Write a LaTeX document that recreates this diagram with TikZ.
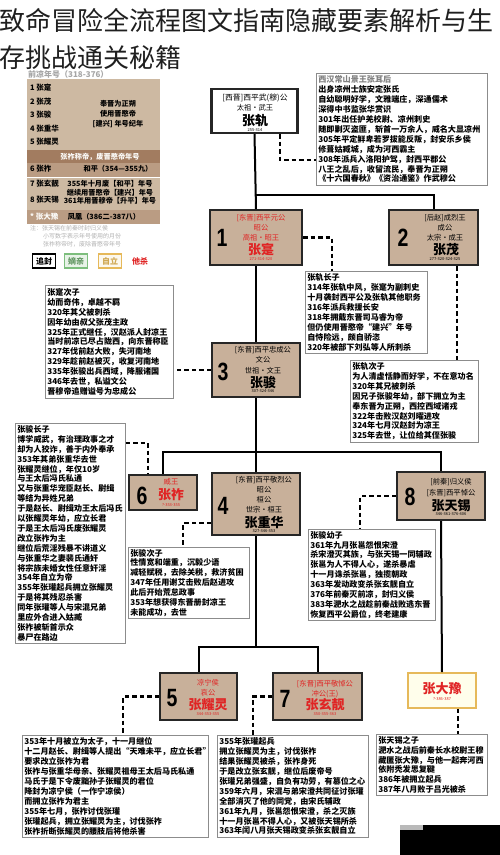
\documentclass[tikz,border=0pt]{standalone}
\usepackage{fontspec}
\setmainfont{Noto Sans CJK SC}
\newfontfamily\numfont{Liberation Sans}
\definecolor{tanf}{HTML}{C8B09A}
\definecolor{redt}{HTML}{E02424}
\definecolor{tabtan}{HTML}{CDB9A2}
\definecolor{tabdark}{HTML}{A27C60}
\definecolor{tabmid}{HTML}{BA9C83}
\definecolor{lgreen}{HTML}{7DBE7D}
\definecolor{lgold}{HTML}{E6B95A}
\tikzset{
 nbox/.style={draw=black!85, line width=2, fill=tanf, inner sep=0},
 ln/.style={inner sep=0, font=\fontsize{7.3}{8}\selectfont},
 nm/.style={inner sep=0, font=\fontsize{13}{13}\selectfont\bfseries},
 tn/.style={inner sep=0, font=\fontsize{4}{4}\selectfont},
 num/.style={inner sep=0, font=\numfont\fontsize{25}{25}\selectfont\bfseries},
 info/.style={draw=black!45, line width=0.7, fill=white, anchor=north west, align=left, inner xsep=2, inner ysep=1.5, font=\fontsize{8.1}{9.9}\selectfont\bfseries},
 trunk/.style={line width=2, black},
 dotc/.style={line width=2.2, black, dash pattern=on 4.5 off 3},
 tl/.style={inner sep=0, anchor=west, font=\fontsize{7.5}{8}\selectfont\bfseries},
 tr/.style={inner sep=0, font=\fontsize{7.2}{8}\selectfont\bfseries},
 note/.style={inner sep=0, anchor=west, text=black!30, font=\fontsize{6}{7}\selectfont},
 lgbox/.style={minimum width=23, minimum height=14, inner sep=0, line width=1.3, font=\fontsize{8}{8}\selectfont\bfseries},
}
\begin{document}
\begin{tikzpicture}[x=1pt,y=-1pt]
\useasboundingbox (0,0) rectangle (500,855);
\fill[white] (0,0) rectangle (500,855);

% ---------- title ----------
\node[anchor=west, inner sep=0, text=black!88, font=\fontsize{26}{26}\selectfont] (title1) at (-1,20) {致命冒险全流程图文指南隐藏要素解析与生};
\node[anchor=west, inner sep=0, text=black!88, font=\fontsize{26}{26}\selectfont] (title2) at (-1,58) {存挑战通关秘籍};

% ---------- left table ----------
\node[inner sep=0, anchor=west, text=black!35, font=\fontsize{8}{8}\selectfont\bfseries] (thead) at (28,74) {前凉年号（318-376）};
\fill[tabtan] (27,79) rectangle (160,150);
\fill[tabdark] (27,150) rectangle (160,163);
\fill[tabmid] (27,163) rectangle (160,177);
\fill[tabtan] (27,178) rectangle (160,210);
\fill[tabmid] (27,210) rectangle (160,224);
\node[tl] (r1) at (30,88) {1 张寔};
\node[tl] (r2) at (30,102) {2 张茂};
\node[tl] (r3) at (30,115) {3 张骏};
\node[tl] (r4) at (30,129) {4 张重华};
\node[tl] (r5) at (30,142) {5 张耀灵};
\node[tr] (rt1) at (118,104) {奉晋为正朔};
\node[tr] (rt2) at (118,114) {使用晋愍帝};
\node[tr] (rt3) at (118,124) {[建兴] 年号纪年};
\node[tr, text=white!94!tabtan] (band) at (100,156.5) {张祚称帝，废晋愍帝年号};
\node[tl] (r6) at (30,169) {6 张祚};
\node[tr] (rt6) at (118,169) {和平（354—355九）};
\node[tl] (r7) at (30,184) {7 张玄靓};
\node[tl] (r8) at (30,200) {8 张天锡};
\node[tr] (rt7) at (110,184) {355年十月废【和平】年号};
\node[tr] (rt8) at (110,192.5) {继续用晋愍帝【建兴】年号};
\node[tr] (rt9) at (110,201) {361年用晋穆帝【升平】年号};
\node[tl, text=white!94!tabtan] (r9) at (30,216.5) {* 张大豫};
\node[tr] (rt10) at (104,216.5) {凤凰（386二-387八）};
\node[note] (n1) at (30,228) {注：张天锡在前秦时封归义侯};
\node[note] (n2) at (43,236) {小写数字表示年号使用的月份};
\node[note] (n3) at (43,244) {张祚称帝时，废除晋愍帝年号};
\node[lgbox, draw=black, fill=white] (lg1) at (44,261) {追封};
\node[lgbox, draw=lgreen, fill=lgreen!18, text=lgreen!80!black] (lg2) at (76,261) {嫡亲};
\node[lgbox, draw=lgold, fill=lgold!10, text=lgold!90!black] (lg3) at (110,261) {自立};
\node[inner sep=0, text=redt, font=\fontsize{8}{8}\selectfont\bfseries] (lg4) at (140,261) {他杀};

% ---------- boxes ----------
\node[nbox, fill=white, line width=2.2, minimum width=86, minimum height=44] (b0) at (254.5,111) {};
\node[nbox, minimum width=92, minimum height=55] (b1) at (256,237.5) {};
\node[nbox, minimum width=89, minimum height=55] (b2) at (433.5,237.5) {};
\node[nbox, minimum width=88, minimum height=54] (b3) at (256,370) {};
\node[nbox, minimum width=88, minimum height=62] (b4) at (256,504) {};
\node[nbox, minimum width=68, minimum height=35] (b6) at (163,492.5) {};
\node[nbox, minimum width=88, minimum height=48] (b8) at (441,496) {};
\node[nbox, minimum width=77, minimum height=47] (b5) at (198.5,696.5) {};
\node[nbox, minimum width=89, minimum height=47] (b7) at (317.5,696.5) {};
\node[nbox, draw=lgold, fill=white!92!yellow, line width=1.6, minimum width=68, minimum height=35] (b9) at (442,690.5) {};

% ---------- connectors ----------
\coordinate (j1) at (256,195);
\coordinate (j2) at (256,452);
\coordinate (j3) at (256,647);
\draw[trunk] (b0.south) -- (b1.north);
\draw[trunk] (j1) -| (b2.north);
\draw[trunk] (b1.south) -- (b3.north);
\draw[trunk] (b3.south) -- (b4.north);
\draw[trunk] (j2) -| (b6.north);
\draw[trunk] (j2) -| (b8.north);
\draw[trunk] (b4.south) -- (j3);
\draw[trunk] (j3) -| (b5.north);
\draw[trunk] (j3) -| (b7.north);
\draw[trunk] (b8.south) -- (b9.north);

% ---------- info boxes ----------
\node[info, text width=167, minimum height=112] (i0) at (316,73) {{\color{black!50}西汉常山景王张耳后}\\出身凉州士族安定张氏\\自幼聪明好学，文雅端庄，深通儒术\\深得中书监张华赏识\\301年出任护羌校尉、凉州刺史\\随即剿灭盗匪，斩首一万余人，威名大显凉州\\305年平定鲜卑若罗拔能反叛，封安乐乡侯\\修葺姑臧城，成为河西霸主\\308年派兵入洛阳护驾，封西平郡公\\八王之乱后，收留流民，奉晋为正朔\\《十六国春秋》《资治通鉴》作武穆公};
\node[info, text width=118, minimum height=82] (i1) at (305,271) {张轨长子\\314年张轨中风，张寔为副刺史\\十月袭封西平公及张轨其他职务\\316年派兵救援长安\\318年拥戴东晋司马睿为帝\\但仍使用晋愍帝“建兴”年号\\自恃险远，颇自骄恣\\320年被部下刘弘等人所刺杀};
\node[info, text width=124, minimum height=82] (i2) at (350,360) {张轨次子\\为人清虚恬静而好学，不在意功名\\320年其兄被刺杀\\因兄子张骏年幼，部下拥立为主\\奉东晋为正朔，西控西域诸戎\\322年击败汉赵刘曜进攻\\324年七月汉赵封为凉王\\325年去世，让位给其侄张骏};
\node[info, text width=124, minimum height=113] (i3) at (45,285) {张寔次子\\幼而奇伟，卓越不羁\\320年其父被刺杀\\因年幼由叔父张茂主政\\325年正式继任，汉赵派人封凉王\\当时前凉已尽占陇西，向东晋称臣\\327年伐前赵大败，失河南地\\329年趁前赵被灭，收复河南地\\335年张骏出兵西域，降服诸国\\346年去世，私谥文公\\晋穆帝追赠谥号为忠成公};
\node[info, text width=106, minimum height=220] (i6) at (15,423) {张骏长子\\博学威武，有治理政事之才\\却为人狡诈，善于内外奉承\\353年其弟张重华去世\\张耀灵继位，年仅10岁\\与王太后冯氏私通\\又与张重华宠臣赵长、尉缉\\等结为异姓兄弟\\于是赵长、尉缉劝王太后冯氏\\以张耀灵年幼，应立长君\\于是王太后冯氏废张耀灵\\改立张祚为主\\继位后荒淫残暴不讲道义\\与张重华之妻裴氏通奸\\将宗族未婚女性任意奸淫\\354年自立为帝\\355年张瓘起兵拥立张耀灵\\于是将其残忍杀害\\同年张瓘等人与宋混兄弟\\里应外合进入姑臧\\张祚被斩首示众\\暴尸在路边};
\node[info, text width=117, minimum height=71] (i4) at (128,547) {张骏次子\\性情宽和端重，沉毅少语\\减轻赋税，去除关税，救济贫困\\347年任用谢艾击败后赵进攻\\此后开始荒怠政事\\353年想获得东晋册封凉王\\未能成功，去世};
\node[info, text width=123, minimum height=91] (i8) at (308,529) {张骏幼子\\361年九月张邕怨恨宋澄\\杀宋澄灭其族，与张天锡一同辅政\\张邕为人不得人心，遂杀暴虐\\十一月诛杀张邕，独揽朝政\\363年发动政变杀张玄靓自立\\376年前秦灭前凉，封归义侯\\383年淝水之战趁前秦战败逃东晋\\恢复西平公爵位，终老建康};
\node[info, text width=182, minimum height=102] (i5) at (22,735) {353年十月被立为太子，十一月继位\\十二月赵长、尉缉等人提出“天难未平，应立长君”\\要求改立张祚为君\\张祚与张重华母亲、张耀灵祖母王太后马氏私通\\马氏于是下令废黜孙子张耀灵的君位\\降封为凉宁侯（一作宁凉侯）\\而拥立张祚为君主\\355年七月，张祚讨伐张瓘\\张瓘起兵，拥立张耀灵为主，讨伐张祚\\张祚折断张耀灵的腰肢后将他杀害};
\node[info, text width=147, minimum height=102] (i7) at (217,735) {355年张瓘起兵\\拥立张耀灵为主，讨伐张祚\\结果张耀灵被杀，张祚身死\\于是改立张玄靓，继位后废帝号\\张瓘兄弟强盛，自负有功劳，有篡位之心\\359年六月，宋混与弟宋澄共同征讨张瓘\\全部消灭了他的同党，由宋氏辅政\\361年九月，张邕怨恨宋澄，杀之灭族\\十一月张邕不得人心，又被张天锡所杀\\363年闰八月张天锡政变杀张玄靓自立};
\node[info, text width=107, minimum height=61] (i9) at (376,734) {张天锡之子\\淝水之战后前秦长水校尉王穆\\藏匿张大豫，与他一起奔河西\\依附秃发思复鞬\\386年被拥立起兵\\387年八月败于吕光被杀};

% ---------- dotted connectors ----------
\coordinate (c0) at (280,160);
\coordinate (c1) at (332,0);
\coordinate (c2) at (457,0);
\coordinate (c6) at (148,443);
\coordinate (c4) at (183,523);
\coordinate (c8) at (360,0);
\coordinate (c5) at (123,0);
\coordinate (c7) at (253,0);
\coordinate (c9) at (458,0);
\draw[dotc] (b0.south -| c0) |- (i0.west |- c0);
\draw[dotc] (b1.east) -| (i1.north -| c1);
\draw[dotc] (b2.south -| c2) -- (i2.north -| c2);
\draw[dotc] (b3.west) -- (b3.west -| i3.east);
\draw[dotc] (i6.east |- c6) -| (b6.north -| c6);
\draw[dotc] (b4.west |- c4) -| (i4.north -| c4);
\draw[dotc] (b8.west) -| (i8.north -| c8);
\draw[dotc] (b5.west) -| (i5.north -| c5);
\draw[dotc] (b7.west) -| (i7.north -| c7);
\draw[dotc] (b9.south -| c9) -- (i9.north -| c9);

% ---------- box texts ----------
% b0
\node[ln, font=\fontsize{7.8}{8}\selectfont] (b0a) at (255,98) {[西晋]西平武(穆)公};
\node[ln] (b0b) at (255,108) {太祖·武王};
\node[nm] (b0c) at (255,120.5) {张轨};
\node[tn] (b0d) at (255,130) {255-314};
% b1
\node[num] (b1n) at (222,238) {\scalebox{0.78}[1]{1}};
\node[ln, text=redt] (b1a) at (261,218) {[东晋]西平元公};
\node[ln, text=redt] (b1b) at (261,228) {昭公};
\node[ln, text=redt] (b1c) at (261,237.5) {高祖·昭王};
\node[nm, text=redt] (b1d) at (261,249.5) {张寔};
\node[tn, text=redt] (b1e) at (261,259.5) {271-314-320};
% b2
\node[num] (b2n) at (403,238) {\scalebox{0.78}[1]{2}};
\node[ln] (b2a) at (445,218) {[后赵]成烈王};
\node[ln] (b2b) at (445,227.5) {成公};
\node[ln] (b2c) at (445,237.5) {太宗·成王};
\node[nm] (b2d) at (446,249.5) {张茂};
\node[tn] (b2e) at (445,259.5) {277-320-324-325};
% b3
\node[num] (b3n) at (223,372) {\scalebox{0.78}[1]{3}};
\node[ln] (b3a) at (263,350) {[东晋]西平忠成公};
\node[ln] (b3b) at (263,360) {文公};
\node[ln] (b3c) at (263,370.5) {世祖·文王};
\node[nm] (b3d) at (263,382) {张骏};
\node[tn] (b3e) at (263,391.5) {307-324-346};
% b4
\node[num] (b4n) at (223,506) {\scalebox{0.78}[1]{4}};
\node[ln] (b4a) at (264,480) {[东晋]西平敬烈公};
\node[ln] (b4b) at (264,490) {昭公};
\node[ln] (b4c) at (264,500) {桓公};
\node[ln] (b4d) at (264,510) {世宗·桓王};
\node[nm] (b4e) at (264,522.5) {张重华};
\node[tn] (b4f) at (264,531.5) {327-346-353};
% b6
\node[num] (b6n) at (142,496) {\scalebox{0.78}[1]{6}};
\node[ln, text=redt] (b6a) at (171,482) {威王};
\node[nm, text=redt] (b6b) at (171,494.5) {张祚};
\node[tn, text=redt] (b6c) at (171,505) {?-353-355};
% b8
\node[num] (b8n) at (410,497) {\scalebox{0.78}[1]{8}};
\node[ln] (b8a) at (451,482) {[前秦]归义侯};
\node[ln] (b8b) at (451,493) {[东晋]西平悼公};
\node[nm] (b8c) at (451,505.5) {张天锡};
\node[tn] (b8d) at (451,514.5) {346-361-376-406};
% b5
\node[num] (b5n) at (172,698) {\scalebox{0.78}[1]{5}};
\node[ln, text=redt] (b5a) at (208,683) {凉宁侯};
\node[ln, text=redt] (b5b) at (208,693) {哀公};
\node[nm, text=redt] (b5c) at (208,705) {张耀灵};
\node[tn, text=redt] (b5d) at (208,714) {344-353-355};
% b7
\node[num] (b7n) at (285,699) {\scalebox{0.78}[1]{7}};
\node[ln, text=redt] (b7a) at (325,684) {[东晋]西平敬悼公};
\node[ln, text=redt] (b7b) at (325,694) {冲公(王)};
\node[nm, text=redt] (b7c) at (325,705) {张玄靓};
\node[tn, text=redt] (b7d) at (325,714) {350-355-363};
% b9
\node[nm, text=redt] (b9a) at (442,688.5) {张大豫};
\node[tn, text=redt] (b9b) at (442,699) {?-386-387};

% ---------- corner block ----------
\fill[black] (400,825) rectangle (500,855);
\fill[gray!55] (400,825) rectangle (423,830);
\end{tikzpicture}
\end{document}
